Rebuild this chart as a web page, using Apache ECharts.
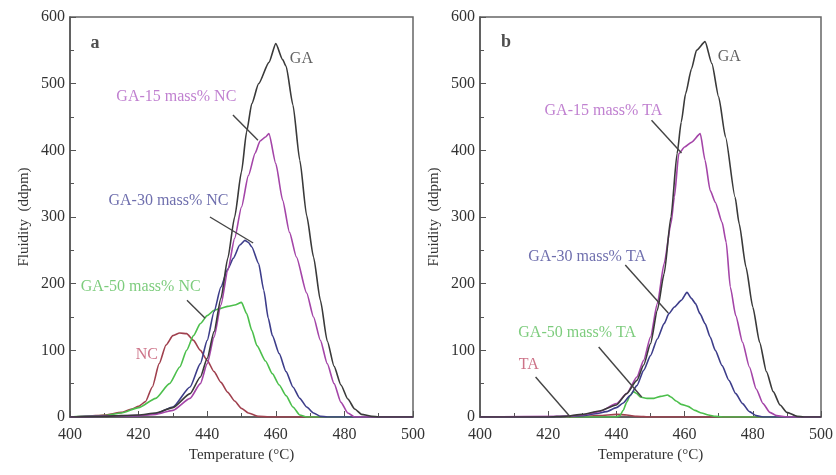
<!DOCTYPE html>
<html><head><meta charset="utf-8">
<script src="https://cdn.jsdelivr.net/npm/echarts@6/dist/echarts.min.js"></script>
<style>html,body{margin:0;padding:0;background:#fff}#c{width:836px;height:475px}</style>
</head><body><div id="c"></div>
<script>
// ---- Panel a (GA + NC blends) : [temperature °C, fluidity ddpm]
const aGA = [[400,0],[410,1],[420,3],[425,6],[430,14],[435,35],[438,60],[440,88],[442,128],[444,178],[446,238],[448,300],[450,368],[451.5,428],[453,470],[455,500],[458,532],[460,560],[462,536],[463,526],[465,468],[467,385],[469,302],[471,240],[473,175],[475,114],[477,76],[479,48],[481,27],[483,12],[485,4],[488,1],[490,0],[500,0]];
const aGA15NC = [[400,0],[420,2],[425,4],[430,10],[435,28],[438,50],[440,80],[442,120],[444,168],[446,220],[448,268],[450,315],[452,362],[454,396],[455.4,414],[457,420],[458,425],[460,380],[462,325],[464,277],[466,240],[469,186],[471,150],[473,115],[475,80],[477,50],[479,22],[481,6],[483,0],[500,0]];
const aGA30NC = [[400,0],[420,2],[425,5],[430,15],[435,45],[438,80],[440,115],[442,158],[444,195],[446,222],[447.6,238],[449.5,258],[451,265],[452,262],[453,255],[455,230],[456.5,190],[457.8,148],[459,122],[461,95],[463,68],[465,45],[467,28],[469,15],[471,6],[473,1],[475,0],[500,0]];
const aGA50NC = [[400,0],[410,2],[415,6],[420,14],[425,28],[429,50],[432,75],[434,100],[436,122],[438,140],[440,152],[442,160],[444,163],[446,166],[448,168],[450,172],[451.5,155],[453,130],[454.5,107],[457,84],[459,65],[461,48],[463,32],[465,15],[467,3],[469,0],[500,0]];
const aNC = [[400,0],[405,1],[410,3],[415,7],[418,12],[420,16],[422,23],[424,45],[426,80],[428,108],[430,122],[432,126],[434,125],[436,115],[438,100],[440,85],[442,68],[444,52],[446,37],[448,24],[450,13],[452,6],[455,1],[458,0],[500,0]];

// ---- Panel b (GA + TA blends)
const bGA = [[400,0],[420,0],[425,1],[430,4],[435,9],[440,18],[443,35],[446,55],[448,78],[450,110],[452,160],[454,215],[456,300],[457.8,395],[459,442],[460.3,485],[462,522],[463.5,550],[466,563],[468,530],[470,480],[472,420],[474.8,330],[476,290],[478,225],[480,165],[482,112],[484,68],[486,38],[488,18],[490,7],[493,1],[495,0],[500,0]];
const bGA15TA = [[400,0],[425,1],[430,3],[435,8],[440,20],[443,35],[446,60],[448,85],[450,120],[452,170],[454,230],[456,290],[457,330],[458.3,395],[460,405],[462,412],[464.6,425],[466,385],[467.5,340],[469,322],[471,292],[472.2,262],[473.4,195],[475,152],[477,112],[479,75],[481,42],[483,20],[485,7],[487,2],[490,0],[500,0]];
const bGA30TA = [[400,0],[420,0],[425,1],[430,2],[434,5],[437,8],[440,14],[442,21],[444,32],[446,47],[448,70],[450,92],[452,117],[454,140],[455.4,155],[457,165],[459,175],[460.7,187],[462,178],[463.2,170],[464.5,155],[466,140],[467.5,120],[469,100],[471,77],[473,55],[475,35],[477,20],[479,8],[481,2],[483,0],[500,0]];
const bGA50TA = [[400,0],[440,0],[441,2],[442,10],[443,22],[444,32],[445,38],[446,35],[447,30],[449,28],[451,28],[453,31],[455,33],[456,30],[457.5,24],[459,19],[461,16],[463,10],[465,6],[467,3],[469,1],[471,0],[500,0]];
const bTA = [[400,0],[425,0],[430,1],[435,2],[440,4],[443,3],[446,1],[450,0],[500,0]];

// ---- Axis ticks
const xMin = 400, xMax = 500, xStep = 20;
const yMin = 0, yMax = 600, yStep = 100;

// ---- Annotation texts [T, value, text, colorKey, align]
const aLabels = [[464.1,538,'GA','ga','left'],[431.0,480,'GA-15 mass% NC','m15','center'],[428.7,325,'GA-30 mass% NC','m30','center'],[420.6,195,'GA-50 mass% NC','m50','center'],[422.4,93,'NC','pure','center']];
const bLabels = [[469.7,540,'GA','ga','left'],[436.2,460,'GA-15 mass% TA','m15','center'],[431.4,240,'GA-30 mass% TA','m30','center'],[428.5,127,'GA-50 mass% TA','m50','center'],[414.3,78,'TA','pure','center']];
const aLeaders = [[[447.5,453],[454.8,415]],[[440.8,300],[453.4,261]],[[434.1,175],[439.4,148]]];
const bLeaders = [[[450.3,445],[459.1,396]],[[442.6,228],[455.2,156]],[[434.8,105],[447.4,30]],[[416.3,60],[426.5,0]]];
const panelTags = [[407.3,561,'a'],[407.6,562,'b']];

const lineCol = {ga:'#3a3a3a', m15:'#a445a8', m30:'#3d3d8a', m50:'#4cbf4c', pure:'#a0404e'};
const txtCol = {ga:'#3a3a3a', m15:'#b060c4', m30:'#4a4a98', m50:'#5cbf5c', pure:'#c0506a'};
const FONT = '"Liberation Serif","Times New Roman",serif';

function mkAxisX(gi){
  return {gridIndex:gi,type:'value',min:xMin,max:xMax,interval:xStep,
    name:'Temperature (\u00B0C)',nameLocation:'middle',nameGap:29,
    nameTextStyle:{fontFamily:FONT,fontSize:15,color:'#333'},
    axisLine:{lineStyle:{color:'#555',width:1.5}},
    axisTick:{inside:true,length:6,lineStyle:{color:'#555'}},
    minorTick:{show:true,splitNumber:2,length:4,lineStyle:{color:'#555'}},
    axisLabel:{fontFamily:FONT,fontSize:16,color:'#333',margin:10},
    splitLine:{show:false}};
}
function mkAxisY(gi){
  return {gridIndex:gi,type:'value',min:yMin,max:yMax,interval:yStep,
    name:'Fluidity  (ddpm)',nameLocation:'middle',nameGap:38,
    nameTextStyle:{fontFamily:FONT,fontSize:15,color:'#333'},
    axisLine:{show:true,lineStyle:{color:'#555',width:1.5}},
    axisTick:{inside:true,length:6,lineStyle:{color:'#555'}},
    minorTick:{show:true,splitNumber:2,length:4,lineStyle:{color:'#555'}},
    axisLabel:{fontFamily:FONT,fontSize:16,color:'#333',margin:5},
    splitLine:{show:false}};
}
function line(gi,data,key,name){
  return {type:'line',name:name,xAxisIndex:gi,yAxisIndex:gi,data:data,showSymbol:false,
    smooth:0.2,smoothMonotone:'x',lineStyle:{color:lineCol[key],width:1.6},z:3};
}
function labels(gi,arr){
  return {type:'scatter',xAxisIndex:gi,yAxisIndex:gi,symbolSize:0,silent:true,z:5,
    data:arr.map(d=>({value:[d[0],d[1]],label:{show:true,position:'inside',formatter:d[2],
      color:txtCol[d[3]],fontFamily:FONT,fontSize:16,align:d[4],verticalAlign:'middle'}}))};
}
function leaders(gi,arr){
  return {type:'line',xAxisIndex:gi,yAxisIndex:gi,data:[],silent:true,
    markLine:{silent:true,symbol:['none','none'],label:{show:false},
      lineStyle:{color:'#444',width:1.4,type:'solid'},
      data:arr.map(s=>[{coord:s[0]},{coord:s[1]}])}};
}
function tag(gi,t){
  return {type:'scatter',xAxisIndex:gi,yAxisIndex:gi,symbolSize:0,silent:true,
    data:[{value:[t[0],t[1]],label:{show:true,position:'inside',formatter:t[2],
      color:'#222',fontFamily:FONT,fontSize:18,fontWeight:'bold'}}]};
}

const chart = echarts.init(document.getElementById('c'),null,{renderer:'canvas'});
chart.setOption({
  animation:false,
  backgroundColor:'#fff',
  grid:[
    {left:70,top:17,width:343,height:400,show:true,borderColor:'#666',borderWidth:1.5,backgroundColor:'transparent'},
    {left:480,top:17,width:343,height:400,show:true,borderColor:'#666',borderWidth:1.5,backgroundColor:'transparent'}
  ],
  xAxis:[mkAxisX(0),mkAxisX(1)],
  yAxis:[mkAxisY(0),mkAxisY(1)],
  series:[
    line(0,aNC,'pure','NC'),
    line(0,aGA50NC,'m50','GA-50 mass% NC'),
    line(0,aGA30NC,'m30','GA-30 mass% NC'),
    line(0,aGA15NC,'m15','GA-15 mass% NC'),
    line(0,aGA,'ga','GA'),
    line(1,bTA,'pure','TA'),
    line(1,bGA50TA,'m50','GA-50 mass% TA'),
    line(1,bGA30TA,'m30','GA-30 mass% TA'),
    line(1,bGA15TA,'m15','GA-15 mass% TA'),
    line(1,bGA,'ga','GA'),
    leaders(0,aLeaders), leaders(1,bLeaders),
    labels(0,aLabels), labels(1,bLabels),
    tag(0,panelTags[0]), tag(1,panelTags[1])
  ]
});
</script></body></html>
